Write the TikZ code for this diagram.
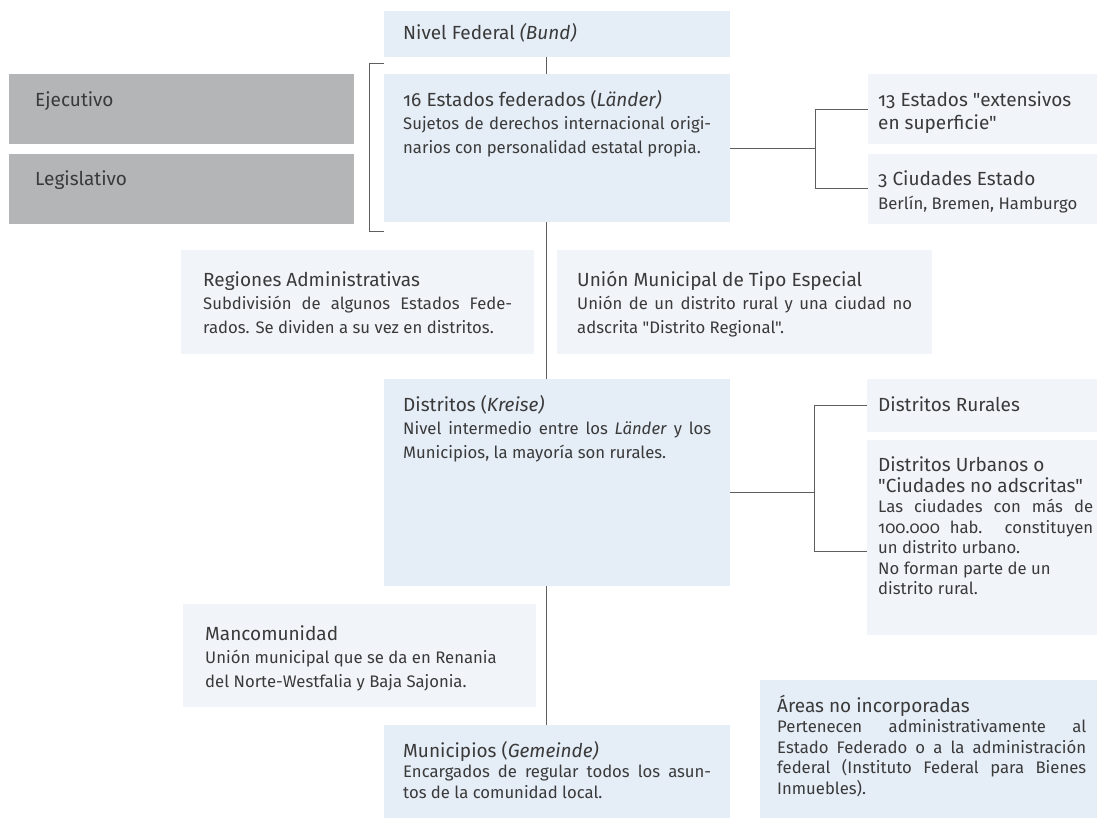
\documentclass[tikz,border=0pt]{standalone}
\usepackage{fontspec}
\setmainfont{Fira Sans}[Numbers=OldStyle, Ligatures=TeXOff]
\usepackage{tikz}
\usetikzlibrary{positioning}
\definecolor{fedblue}{HTML}{E5EDF7}
\definecolor{sideblue}{HTML}{F1F5FA}
\definecolor{powergray}{HTML}{B4B5B7}
\definecolor{inkgray}{HTML}{3A3A3A}
\definecolor{linegray}{HTML}{5E5E5E}
\newcommand{\headline}[1]{{\fontsize{19}{22.5}\selectfont #1}}
\tikzset{
  basic/.style = {anchor=north west, text=inkgray, align=justify, text height=14pt,
                  inner ysep=18pt, font=\fontsize{16.7}{23.5}\selectfont},
  tight/.style = {font=\fontsize{16.7}{20.5}\selectfont},
  main/.style  = {basic, fill=fedblue, text width=308pt, inner xsep=19pt},
  side/.style  = {basic, fill=sideblue},
  power/.style = {basic, fill=powergray, text width=293pt, inner xsep=26pt,
                  text depth=20pt},
  link/.style  = {draw=linegray, line width=1pt}
}

\begin{document}
\begin{tikzpicture}[x=1pt, y=-1pt]
\useasboundingbox (0,0) rectangle (1097,818);
\clip (0,0) rectangle (1097,818);

% columna central
\node[main, inner ysep=8pt, text height=20pt, text depth=10pt] (fed) at (384,11)
  {\headline{Nivel Federal \textit{(Bund)}}};
\node[main, text depth=98pt] (lander) at (384,74)
  {\headline{16 Estados federados (\textit{Länder)}}\\
   Sujetos de derechos internacional origi-\linebreak narios con personalidad estatal propia.};
\node[main, text depth=157pt] (kreise) at (384,379)
  {\headline{Distritos (\textit{Kreise)}}\\
   Nivel intermedio entre los \textit{Länder} y los\linebreak Municipios, la mayoría son rurales.};
\node[main, tight, text depth=59pt] (gemeinde) at (384,725)
  {\headline{Municipios (\textit{Gemeinde)}}\\
   Encargados de regular todos los asun-\linebreak tos de la comunidad local.};

% poderes
\node[power] (eje) at (9,74) {\headline{Ejecutivo}};
\node[power, below right=9pt and 0pt of eje.south west] (legis) {\headline{Legislativo}};

% cajas laterales
\begin{scope}[every node/.style={side}]
\node[text width=215pt, inner xsep=10pt, text depth=20pt] (extensivos) at (868,74)
  {\headline{13 Estados "extensivos\\ en superficie"}};
\node[text width=215pt, inner xsep=10pt, text depth=20pt,
      below right=9pt and 0pt of extensivos.south west] (ciudades)
  {\headline{3 Ciudades Estado}\\ Berlín, Bremen, Hamburgo};
\node[text width=309pt, inner xsep=22pt, text height=18pt, text depth=50pt] (regiones) at (181,250)
  {\headline{Regiones Administrativas}\\
   Subdivisión de algunos Estados Fede-\linebreak rados. Se dividen a su vez en distritos.};
\node[text width=335pt, inner xsep=20pt, text height=18pt, text depth=50pt] (union) at (557,250)
  {\headline{Unión Municipal de Tipo Especial}\\
   Unión de un distrito rural y una ciudad no\linebreak adscrita "Distrito Regional".};
\node[text width=215pt, inner xsep=11pt, text depth=3pt] (rurales) at (867,379)
  {\headline{Distritos Rurales}};
\node[tight, text width=215pt, inner xsep=11pt, text depth=145pt,
      below right=7pt and 0pt of rurales.south west] (urbanos)
  {\headline{Distritos Urbanos o\\ "Ciudades no adscritas"}\\
   Las ciudades con más de\linebreak 100.000 hab. constituyen\linebreak
   un distrito urbano.\\ No forman parte de un\\ distrito rural.};
\node[text width=309pt, inner xsep=22pt, text height=18pt, text depth=49pt] (mancom) at (183,604)
  {\headline{Mancomunidad}\\
   Unión municipal que se da en Renania\\ del Norte-Westfalia y Baja Sajonia.};
\end{scope}
\node[main, tight, text width=309pt, inner xsep=17pt, text depth=99pt] (areas) at (760,680)
  {\headline{Áreas no incorporadas}\\
   Pertenecen administrativamente al\linebreak Estado Federado o a la administración\linebreak
   federal (Instituto Federal para Bienes\linebreak Inmuebles).};

% conectores
\coordinate (spine) at (546,0);
\draw[link] (fed.south -| spine) -- (lander.north -| spine);
\draw[link] (lander.south -| spine) -- (kreise.north -| spine);
\draw[link] (kreise.south -| spine) -- (gemeinde.north -| spine);
\draw[link] ([yshift=10pt]lander.north west) -- ++(-15,0) |- ([yshift=-9pt]lander.south west);

\draw[link] (lander.east) -- ++(85,0) coordinate (fork1);
\draw[link] (fork1) |- (extensivos.west);
\draw[link] (fork1) |- (ciudades.west);

\coordinate (fork2) at (814,492);
\draw[link] (fork2 -| kreise.east) -- (fork2);
\draw[link] (rurales.west) -| (fork2) |- ([yshift=-14pt]urbanos.west);
\end{tikzpicture}
\end{document}
